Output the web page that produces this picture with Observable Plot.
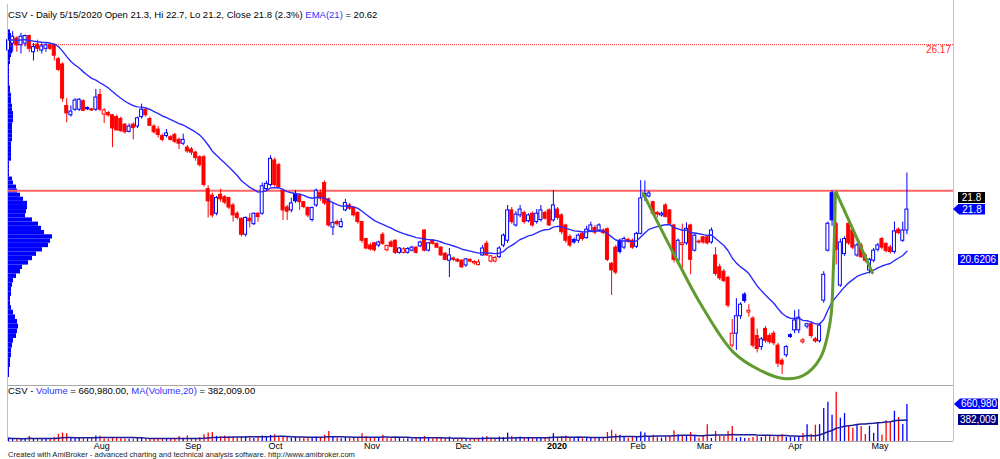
<!DOCTYPE html>
<html><head><meta charset="utf-8">
<script src="https://cdn.jsdelivr.net/npm/d3@7"></script>
<script src="https://cdn.jsdelivr.net/npm/@observablehq/plot@0.6"></script>
<style>
html,body{margin:0;padding:0;background:#fff;}
#wrap{position:relative;width:1000px;height:459px;overflow:hidden;font-family:"Liberation Sans",Arial,Helvetica,sans-serif;color:#000;}
#wrap svg{position:absolute;left:0;}
.t{position:absolute;white-space:nowrap;font-size:9.5px;line-height:12px;}
.ln{position:absolute;background:#b4b4b8;}
.lbl{position:absolute;color:#fff;font-size:10px;line-height:11px;height:11px;text-align:center;white-space:nowrap;box-sizing:border-box;}
</style></head><body><div id="wrap"></div><script>
// ---- data (daily bars, CSV, Jul 2019 - 15 May 2020) ----
const opens = [
26.0,26.2,26.35,26.15,26.2,26.42,25.95,26.17,26.0,26.05,
26.15,26.15,25.75,25.6,24.45,24.2,24.35,24.35,24.58,24.4,
24.36,24.35,24.75,24.22,24.26,24.2,24.15,24.1,23.95,23.76,
23.95,23.9,24.15,24.35,24.1,23.9,23.82,23.65,23.65,23.62,
23.68,23.55,23.45,23.35,23.3,23.22,23.1,23.1,22.3,22.14,
21.7,22.16,22.1,22.08,21.9,21.7,21.58,21.2,21.58,21.45,
21.7,21.7,22.3,22.4,23.02,22.9,22.26,21.85,21.78,22.18,
22.14,21.98,21.84,21.55,21.9,22.2,22.45,22.05,21.37,21.5,
21.38,21.78,21.9,21.84,21.72,21.5,21.1,20.95,21.0,20.95,
21.2,20.84,21.02,21.06,20.78,20.78,20.78,20.83,20.9,20.93,
21.3,20.83,21.06,20.99,20.9,20.76,20.6,20.65,20.62,20.6,
20.49,20.62,20.54,20.5,20.72,20.99,20.58,20.58,20.68,20.95,
21.06,21.78,21.42,21.66,21.72,21.52,21.7,21.5,21.55,21.72,
21.78,21.54,21.8,21.66,21.42,21.15,21.08,21.06,21.22,21.12,
21.28,21.36,21.3,21.3,21.33,20.53,20.9,21.06,20.9,21.08,
21.06,20.92,21.22,22.1,22.12,21.98,21.72,21.66,21.9,21.78,
21.42,20.6,20.96,21.0,21.42,20.83,21.02,21.14,21.14,21.02,
20.72,20.45,20.35,20.21,18.75,19.0,19.37,19.84,19.45,19.32,
18.95,18.72,19.1,18.95,19.0,18.75,18.44,18.55,18.97,19.07,
19.07,18.82,19.15,19.2,18.88,18.84,19.71,20.83,22.2,21.45,
20.04,20.75,21.46,21.3,20.72,20.95,20.72,20.38,20.6,20.85,
21.1,20.99,20.9,20.8,21.32,21.06,21.3];
const highs = [
26.45,26.55,26.4,26.5,26.45,26.45,26.2,26.3,26.2,26.2,
26.2,26.2,25.8,25.65,24.65,24.45,24.65,24.65,24.62,24.42,
24.38,24.9,24.9,24.38,24.3,24.22,24.2,24.15,23.98,23.97,
24.0,24.15,24.5,24.4,24.15,23.95,23.9,23.7,23.82,23.66,
23.72,23.6,23.7,23.4,23.35,23.25,23.14,23.15,22.38,22.2,
22.12,22.3,22.14,22.1,21.95,21.75,21.6,21.62,21.7,21.72,
21.72,22.45,22.5,23.14,23.08,22.95,22.3,21.9,22.08,22.26,
22.18,22.0,21.86,21.86,22.3,22.28,22.5,22.08,21.95,21.55,
21.58,22.05,21.95,21.86,21.74,21.52,21.12,21.0,21.02,21.05,
21.25,20.96,21.06,21.08,20.9,20.9,20.9,20.93,20.92,21.05,
21.32,21.02,21.08,21.0,20.92,20.78,20.88,20.68,20.65,20.62,
20.65,20.64,20.6,20.62,20.95,21.05,20.72,20.7,20.92,21.22,
21.9,21.85,21.75,21.9,21.76,21.7,21.74,21.8,21.9,21.76,
21.82,22.26,21.85,21.7,21.45,21.2,21.12,21.22,21.26,21.4,
21.5,21.42,21.46,21.34,21.36,20.56,20.95,21.1,21.15,21.12,
21.1,21.26,22.51,22.5,22.25,22.0,21.75,21.74,21.94,21.8,
21.45,21.1,21.45,21.48,21.45,21.22,21.08,21.16,21.16,21.36,
20.9,20.52,20.4,20.25,19.3,19.75,19.66,19.88,19.62,19.36,
19.1,18.92,19.15,19.0,19.05,18.8,18.48,18.75,19.0,19.49,
19.51,18.9,19.22,19.25,18.92,19.22,20.35,21.5,22.26,21.5,
21.1,21.15,21.5,21.34,21.0,21.0,20.76,20.65,20.88,21.0,
21.14,21.0,20.95,21.5,21.36,21.5,22.7];
const lows = [
25.85,25.95,25.95,25.9,26.1,25.95,25.7,25.95,25.9,25.95,
26.0,25.7,25.4,24.55,24.0,24.15,24.3,24.3,24.3,24.33,
24.3,24.3,24.3,23.98,24.15,23.35,23.78,23.75,23.7,23.73,
23.55,23.85,24.1,24.15,23.9,23.7,23.6,23.5,23.6,23.52,
23.45,23.3,23.4,23.2,23.15,23.0,22.85,22.35,21.6,21.6,
21.65,21.98,21.92,21.8,21.5,21.55,21.15,21.15,21.36,21.42,
21.5,21.66,22.25,22.35,22.35,22.3,21.54,21.54,21.72,21.95,
21.78,21.82,21.6,21.5,21.85,22.0,21.9,21.38,21.18,21.4,
21.35,21.75,21.78,21.62,21.45,21.0,20.85,20.82,20.8,20.9,
20.95,20.8,20.9,20.74,20.75,20.75,20.75,20.8,20.75,20.9,
20.8,20.8,20.96,20.88,20.7,20.6,20.22,20.58,20.55,20.42,
20.45,20.55,20.5,20.48,20.7,20.7,20.55,20.55,20.65,20.9,
21.0,21.45,21.38,21.6,21.45,21.48,21.38,21.45,21.5,21.55,
21.4,21.5,21.55,21.2,21.0,20.9,20.98,21.0,21.05,21.1,
21.25,21.2,21.26,21.2,20.58,19.82,20.28,20.75,20.85,21.0,
20.86,20.88,21.2,22.0,22.08,21.66,21.6,21.62,21.6,21.44,
20.55,20.55,20.38,20.95,20.28,20.8,20.98,20.98,20.96,20.98,
20.25,20.15,20.1,19.55,18.7,18.65,19.3,19.65,19.35,18.7,
18.6,18.65,18.8,18.78,18.75,18.3,18.16,18.5,18.9,19.0,
19.0,18.78,19.1,18.9,18.8,18.8,19.65,20.8,21.4,20.5,
20.0,20.7,20.95,20.85,20.68,20.65,20.55,20.3,20.55,20.8,
20.85,20.78,20.75,20.75,21.2,21.02,21.2];
const closes = [
26.3,26.4,26.15,26.4,26.42,26.05,26.1,26.05,26.12,26.15,
26.05,25.85,25.45,24.65,24.25,24.3,24.6,24.62,24.32,24.36,
24.33,24.68,24.35,24.33,24.2,23.85,23.8,23.78,23.75,23.9,
23.86,24.12,24.35,24.2,23.92,23.75,23.68,23.55,23.72,23.55,
23.5,23.45,23.55,23.25,23.22,23.08,22.9,22.4,22.0,21.66,
22.08,22.05,21.97,21.85,21.66,21.6,21.2,21.6,21.52,21.7,
21.62,22.37,22.43,23.06,22.4,22.35,21.78,21.75,21.95,22.0,
21.98,21.86,21.66,21.84,22.26,22.07,21.95,21.42,21.48,21.45,
21.5,21.96,21.82,21.66,21.5,21.06,20.88,20.86,20.84,21.02,
20.99,20.94,20.92,20.78,20.88,20.86,20.87,20.9,20.78,21.02,
20.83,21.0,20.99,20.9,20.72,20.62,20.72,20.62,20.58,20.45,
20.63,20.58,20.57,20.56,20.88,20.72,20.7,20.66,20.88,21.18,
21.78,21.5,21.68,21.8,21.5,21.66,21.42,21.7,21.78,21.58,
21.42,21.9,21.6,21.26,21.06,20.95,21.02,21.18,21.1,21.32,
21.42,21.25,21.42,21.24,20.62,20.38,20.33,20.8,21.1,21.04,
20.9,21.22,22.07,22.18,22.19,21.7,21.68,21.7,21.62,21.46,
20.62,21.06,21.0,21.34,20.62,21.18,21.04,21.02,21.0,21.3,
20.3,20.2,20.14,19.6,19.0,19.37,19.62,19.7,19.49,18.75,
18.68,18.88,18.85,18.82,18.8,18.38,18.36,18.72,18.93,19.28,
19.34,18.86,19.2,18.95,18.84,19.17,20.28,21.46,21.54,20.85,
21.02,21.1,21.0,20.9,20.95,20.68,20.6,20.62,20.83,20.95,
20.9,20.82,20.8,21.28,21.24,21.3,21.8];
// volume in thousands of shares
const volumesK = [
60,45,50,40,55,90,45,50,40,45,50,70,
130,150,140,
60,55,60,50,45,55,
100,95,
45,40,60,55,50,45,40,45,50,60,55,50,45,50,55,45,40,50,
90,60,100,55,50,70,
120,150,160,90,80,100,
85,70,60,80,90,60,55,70,
100,90,110,
120,90,80,70,60,75,65,
60,70,55,75,60,110,180,
80,60,50,70,55,60,70,
140,90,70,60,55,110,
60,50,70,55,45,50,40,55,60,90,
50,45,55,70,60,80,45,40,55,50,40,45,50,75,90,50,45,80,
70,150,90,70,80,60,55,70,50,65,60,80,140,75,90,100,70,55,60,50,65,70,55,60,
60,160,200,130,110,90,60,70,90,170,150,90,110,70,60,80,90,190,120,90,100,160,110,60,
90,300,55,180,90,90,180,270,55,70,55,55,70,90,70,90,90,70,90,125,
70,70,70,90,145,300,125,290,300,590,700,470,880,415,500,270,235,295,270,125,
270,145,320,110,370,340,540,430,305,660.98];
const monthTickIdx = [20,42,62,85,107,129,149,165,187,207];
const monthTickLabels = ["Aug","Sep","Oct","Nov","Dec","2020","Feb","Mar","Apr","May"];
// volume-at-price profile (left edge), bins of 0.1 starting at 18.1
const profileLow = 18.1, profileStep = 0.1;
const profileVol = [
1,1,2,2,3,3,4,5,8,9,
10,9,7,5,3,2,2,3,3,4,
5,8,12,14,20,24,28,34,40,42,
44,36,33,30,24,17,18,19,19,15,
12,9,8,5,4,1,1,1,1,3,
3,3,3,3,4,4,4,4,4,5,
5,5,4,4,3,3,3,2,2,1,
1,1,1,1,1,2,2,3,4,4,
4,4,4,3,2];
// hand-drawn cup & handle annotation (bar index, price)
const cupIdx   = [152.6,160.8,166.3,174.3,180.8,186.3,191.1,195.2,197.6,198.3,198.8];
const cupPrice = [22.19,20.6,19.65,18.61,18.24,18.08,18.14,18.5,19.28,20.38,22.19];
const handleIdx = [199.0,207.7], handlePrice = [22.22,20.33];
const resistancePrice = 22.26;
const refLinePrice = 26.17;
const emaShown = 20.6206;
const volShown = 660980, volMAShown = 382009;

// ---- build ----
const wrap = document.getElementById("wrap");
const n = closes.length;
const blankBars = 11.2;
const UP = "#0000ff", DOWN = "#ff0000";
const bars = closes.map((c, i) => {
  const o = opens[i];
  const prev = i > 0 ? closes[i - 1] : o;
  const color = c >= prev ? UP : DOWN;
  return {i, o, h: highs[i], l: lows[i], c, v: volumesK[i] * 1000, color, body: c >= o ? "#ffffff" : color};
});
const alpha = 2 / 22;
const ema = [];
closes.forEach((c, i) => { const p = i ? ema[i - 1].v : c; ema.push({i, v: i ? p + alpha * (c - p) : c}); });
const volMA = bars.map((b, i) => ({i, v: d3.mean(bars.slice(Math.max(0, i - 19), i + 1), d => d.v)}));
const profile = profileVol.map((v, k) => ({lo: profileLow + k * profileStep, hi: profileLow + (k + 1) * profileStep, v}));
const cup = cupIdx.map((x, k) => ({i: x, p: cupPrice[k]}));
const handle = handleIdx.map((x, k) => ({i: x, p: handlePrice[k]}));
const months = monthTickIdx.map((x, k) => ({i: x, label: monthTickLabels[k]}));

const xOpts = {domain: [0, n - 1 + blankBars], axis: null};
const yPrice = {type: "log", domain: [17.94, 27.36], axis: null};

const profSvg = Plot.plot({
  width: 1000, height: 385, marginLeft: 8, marginRight: 948, marginTop: 4, marginBottom: 0,
  x: {domain: [0, 44], axis: null}, y: yPrice,
  style: {background: "transparent"},
  marks: [Plot.rectX(profile, {x: "v", y1: "lo", y2: "hi", fill: "#0000ff"})]
});
const priceSvg = Plot.plot({
  width: 1000, height: 385, marginLeft: 8, marginRight: 47, marginTop: 4, marginBottom: 0,
  x: xOpts, y: yPrice, color: {type: "identity"},
  style: {background: "transparent", overflow: "visible"},
  marks: [
    Plot.ruleY([refLinePrice], {stroke: "#ff2a2a", strokeWidth: 1, strokeDasharray: "1,1"}),
    Plot.ruleY([resistancePrice], {stroke: "#ff6464", strokeWidth: 2}),
    Plot.ruleX(bars, {x: "i", y1: "l", y2: "h", stroke: "color", strokeWidth: 1}),
    Plot.rect(bars, {x1: d => d.i - 0.36, x2: d => d.i + 0.36, y1: "o", y2: "c", fill: "body", stroke: "color", strokeWidth: 1}),
    Plot.line(ema, {x: "i", y: "v", stroke: "#2a2aff", strokeWidth: 1.4}),
    Plot.line(cup, {x: "i", y: "p", curve: "catmull-rom", stroke: "#5f9b2f", strokeWidth: 3}),
    Plot.line(handle, {x: "i", y: "p", stroke: "#5f9b2f", strokeWidth: 3})
  ]
});
const volSvg = Plot.plot({
  width: 1000, height: 74, marginLeft: 8, marginRight: 47, marginTop: 0, marginBottom: 18,
  x: xOpts, y: {domain: [0, 1.0e6], axis: null}, color: {type: "identity"},
  style: {background: "transparent", overflow: "visible"},
  marks: [
    Plot.ruleX(bars, {x: "i", y1: 0, y2: "v", stroke: "color", strokeWidth: 1.3}),
    Plot.line(volMA, {x: "i", y: "v", stroke: "#1c1c96", strokeWidth: 1.5}),
    Plot.ruleY([0], {stroke: "#a8a8a8"}),
    Plot.text(months.filter(d => !/^\d{4}$/.test(d.label)), {x: "i", y: 0, text: "label", textAnchor: "start", lineAnchor: "middle", dx: 2, dy: 5, fontSize: 9, fill: "#000", fontFamily: "Liberation Sans, Arial, sans-serif"}),
    Plot.text(months.filter(d => /^\d{4}$/.test(d.label)), {x: "i", y: 0, text: "label", textAnchor: "start", lineAnchor: "middle", dx: 2, dy: 5, fontSize: 9, fontWeight: "bold", fill: "#000", fontFamily: "Liberation Sans, Arial, sans-serif"})
  ]
});
profSvg.style.top = "0px"; priceSvg.style.top = "0px"; volSvg.style.top = "385px";
wrap.appendChild(profSvg); wrap.appendChild(priceSvg); wrap.appendChild(volSvg);

function line(l, t, w, h, c) { const d = document.createElement("div"); d.className = "ln"; Object.assign(d.style, {left: l + "px", top: t + "px", width: w + "px", height: h + "px"}); if (c) d.style.background = c; wrap.appendChild(d); }
line(7, 4, 1, 437, "#c0c0cc");
line(953, 0, 1, 441, "#c4c4c4");
line(7, 385, 946, 1, "#a8a8a8");

function text(html, l, t, size, extra) { const d = document.createElement("div"); d.className = "t"; d.innerHTML = html; d.style.left = l + "px"; d.style.top = t + "px"; if (size) d.style.fontSize = size + "px"; if (extra) Object.assign(d.style, extra); wrap.appendChild(d); return d; }
const last = bars[n - 1], prevC = closes[n - 2];
const pct = ((last.c / prevC - 1) * 100).toFixed(1);
text(`CSV - Daily 5/15/2020 Open ${last.o}, Hi ${last.h}, Lo ${last.l}, Close ${last.c} (${pct}%) <span style="color:#3030ff">EMA(21)</span> = ${emaShown.toFixed(2)}`, 8, 9);
const fmt = d3.format(",.2f");
text(`CSV - <span style="color:#3030ff">Volume</span> = ${fmt(volShown)}, <span style="color:#3030ff">MA(Volume,20)</span> = ${fmt(volMAShown)}`, 8, 385);
text(`Created with AmiBroker - advanced charting and technical analysis software. http://www.amibroker.com`, 8, 451, 7.6, {lineHeight: "8px", color: "#222"});

const yP = priceSvg.scale("y"), yV = volSvg.scale("y");
function label(txt, yc, left, width, bg, arrow) {
  const d = document.createElement("div"); d.className = "lbl"; d.textContent = txt;
  Object.assign(d.style, {left: left + "px", width: width + "px", top: (yc - 5.5) + "px", background: bg});
  if (arrow) { d.style.clipPath = "polygon(0 50%, 6px 0, 100% 0, 100% 100%, 6px 100%)"; d.style.paddingLeft = "6px"; }
  wrap.appendChild(d);
}
const yClose = yP.apply(last.c);
label(String(last.c), yClose - 12, 958, 27, "#000000", false);
label(String(last.c), yClose, 953, 32, "#0000ff", true);
label(String(emaShown), yP.apply(emaShown), 958, 40, "#0000ff", false);
label(d3.format(",")(volShown), 385 + yV.apply(volShown), 954, 44, "#0000ff", true);
label(d3.format(",")(volMAShown), 385 + yV.apply(volMAShown), 958, 40, "#000080", false);
text(String(refLinePrice), 0, yP.apply(refLinePrice) + 0.5, 10, {color: "#ff2a2a", left: "auto", right: "49px", lineHeight: "10px"});
</script></body></html>
